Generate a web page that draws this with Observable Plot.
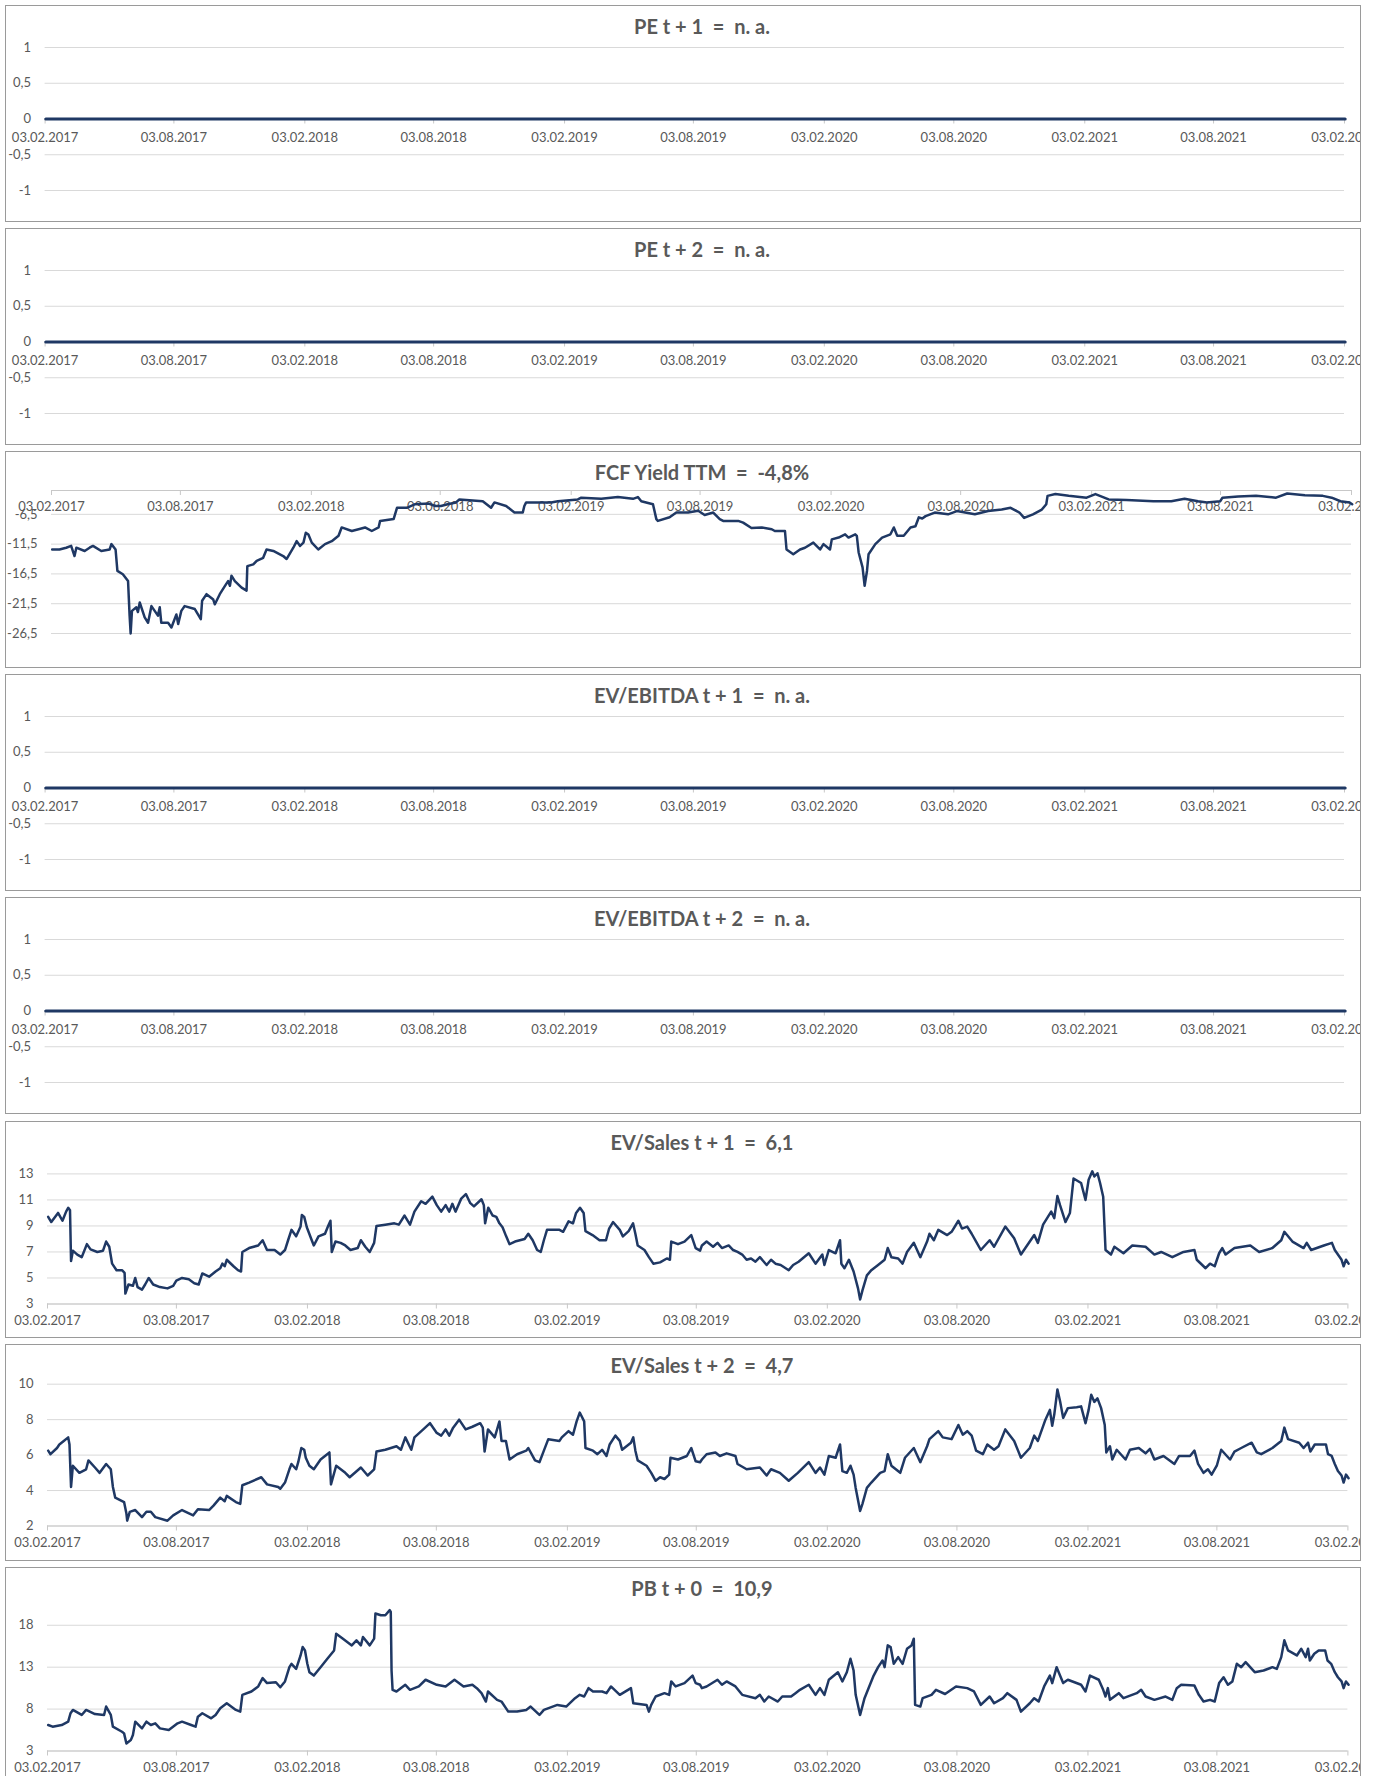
<!DOCTYPE html>
<html><head><meta charset="utf-8">
<script src="https://cdn.jsdelivr.net/npm/d3@7"></script>
<script src="https://cdn.jsdelivr.net/npm/@observablehq/plot@0.6"></script>
<style>
body{margin:0;background:#fff;}
#root{position:relative;width:1379px;height:1776px;overflow:hidden;background:#fff;}
.panel{position:absolute;left:5px;width:1354px;height:215px;border:1px solid #9a9a9a;overflow:hidden;background:#fff;}
.panel svg{position:absolute;left:0;top:0;}
.title{position:absolute;top:8px;left:696px;transform:translateX(-50%);font:bold 20px Lato,sans-serif;color:#595959;white-space:pre;line-height:24px;z-index:2;}
</style></head><body><div id="root"></div>
<script>
// ---------- titles & tick labels ----------
const titles = [
  "PE t + 1  =  n. a.",
  "PE t + 2  =  n. a.",
  "FCF Yield TTM  =  -4,8%",
  "EV/EBITDA t + 1  =  n. a.",
  "EV/EBITDA t + 2  =  n. a.",
  "EV/Sales t + 1  =  6,1",
  "EV/Sales t + 2  =  4,7",
  "PB t + 0  =  10,9"
];
const xTickLabels = ["03.02.2017","03.08.2017","03.02.2018","03.08.2018","03.02.2019","03.08.2019","03.02.2020","03.08.2020","03.02.2021","03.08.2021","03.02.2022"];
const yTicksNA = [-1, -0.5, 0, 0.5, 1];
const yTicksFCF = [-26.5, -21.5, -16.5, -11.5, -6.5];
const yTicksEV1 = [3, 5, 7, 9, 11, 13];
const yTicksEV2 = [2, 4, 6, 8, 10];
const yTicksPB = [3, 8, 13, 18];

// ---------- series: [decimal year, value] ----------
const naSeries = [[2017.093, 0], [2022.093, 0]]; // n. a. series shown as 0

const fcfYield = [[2017.093,-12.4],[2017.121,-12.4],[2017.147,-12.1],[2017.166,-11.8],[2017.179,-13.5],[2017.186,-12.1],[2017.218,-12.65],[2017.237,-12.1],[2017.250,-11.8],[2017.282,-12.65],[2017.314,-12.4],[2017.321,-11.5],[2017.337,-12.4],[2017.344,-16.0],[2017.365,-16.55],[2017.385,-17.7],[2017.391,-23.5],[2017.395,-26.5],[2017.400,-22.7],[2017.417,-22.1],[2017.423,-22.9],[2017.430,-21.3],[2017.449,-23.8],[2017.462,-24.7],[2017.475,-21.9],[2017.500,-23.5],[2017.507,-22.1],[2017.513,-24.7],[2017.539,-24.7],[2017.552,-25.5],[2017.571,-23.3],[2017.578,-24.9],[2017.590,-22.7],[2017.603,-21.9],[2017.642,-22.4],[2017.665,-24.1],[2017.670,-21.0],[2017.687,-19.9],[2017.713,-20.8],[2017.719,-21.6],[2017.738,-19.9],[2017.758,-18.5],[2017.770,-17.7],[2017.777,-18.5],[2017.783,-16.8],[2017.796,-17.7],[2017.822,-18.8],[2017.841,-19.3],[2017.844,-15.2],[2017.867,-14.9],[2017.880,-14.3],[2017.905,-13.8],[2017.918,-12.4],[2017.944,-12.65],[2017.982,-13.5],[2017.995,-14.0],[2018.021,-12.1],[2018.034,-11.0],[2018.047,-11.8],[2018.060,-11.25],[2018.069,-9.6],[2018.079,-9.9],[2018.092,-11.25],[2018.117,-12.4],[2018.143,-11.5],[2018.169,-11.0],[2018.195,-10.1],[2018.207,-8.7],[2018.246,-9.3],[2018.272,-9.0],[2018.297,-8.7],[2018.323,-9.3],[2018.349,-8.7],[2018.355,-7.6],[2018.407,-7.3],[2018.420,-5.4],[2018.458,-5.4],[2018.490,-4.8],[2018.542,-4.7],[2018.567,-5.1],
[2018.589,-5.1],[2018.615,-4.8],[2018.647,-4.5],[2018.660,-4.0],[2018.750,-4.3],[2018.782,-5.4],[2018.795,-4.5],[2018.840,-5.1],[2018.872,-6.2],[2018.904,-6.2],[2018.910,-5.1],[2018.917,-4.5],[2019.013,-4.5],[2019.039,-4.3],[2019.116,-4.0],[2019.129,-3.7],[2019.206,-3.9],[2019.270,-3.6],[2019.328,-3.9],[2019.347,-3.6],[2019.360,-4.3],[2019.405,-4.8],[2019.418,-7.3],[2019.424,-7.6],[2019.469,-7.0],[2019.495,-6.2],[2019.540,-6.2],[2019.579,-5.9],[2019.604,-6.6],[2019.637,-6.2],[2019.662,-7.3],[2019.675,-7.6],[2019.733,-7.6],[2019.752,-7.9],[2019.784,-8.8],[2019.823,-8.7],[2019.862,-9.0],[2019.874,-9.3],[2019.913,-9.3],[2019.919,-12.4],[2019.945,-13.2],[2019.971,-12.4],[2019.990,-12.1],[2020.022,-11.25],[2020.048,-12.4],[2020.061,-11.5],[2020.086,-12.4],[2020.093,-10.7],[2020.119,-10.4],[2020.144,-9.85],[2020.157,-10.4],[2020.183,-9.85],[2020.189,-10.1],[2020.196,-12.9],[2020.211,-15.4],[2020.219,-18.5],[2020.228,-16.0],[2020.234,-13.2],[2020.260,-11.5],[2020.286,-10.4],[2020.318,-9.85],[2020.331,-8.7],[2020.344,-10.1],[2020.369,-10.1],[2020.395,-8.7],[2020.414,-8.5],[2020.427,-7.0],[2020.440,-7.2],
[2020.453,-6.8],[2020.488,-6.2],[2020.539,-6.5],[2020.573,-5.95],[2020.642,-6.5],[2020.693,-5.95],[2020.745,-5.7],[2020.779,-5.4],[2020.813,-6.2],[2020.831,-7.1],[2020.865,-6.5],[2020.899,-5.7],[2020.916,-4.8],[2020.921,-3.4],[2020.951,-3.1],[2021.002,-3.4],[2021.071,-3.7],[2021.105,-3.1],[2021.156,-4.0],[2021.225,-4.1],[2021.328,-4.3],[2021.397,-4.3],[2021.448,-3.9],[2021.500,-4.3],[2021.534,-4.5],[2021.585,-4.3],[2021.594,-3.7],[2021.654,-3.5],[2021.723,-3.4],[2021.800,-3.7],[2021.843,-3.0],[2021.911,-3.3],[2021.980,-3.4],[2022.014,-3.7],[2022.048,-4.3],[2022.083,-4.5],[2022.093,-4.8]];

const evSales1 = [[2017.093,9.7],[2017.105,9.3],[2017.131,10.0],[2017.148,9.4],[2017.162,10.1],[2017.170,10.4],[2017.177,10.2],[2017.181,6.3],[2017.188,7.1],[2017.205,6.8],[2017.222,6.6],[2017.242,7.6],[2017.256,7.2],[2017.282,7.0],[2017.304,7.1],[2017.316,7.8],[2017.328,7.4],[2017.339,6.1],[2017.356,5.6],[2017.377,5.6],[2017.387,5.4],[2017.390,3.8],[2017.402,4.5],[2017.419,4.4],[2017.428,5.0],[2017.437,4.3],[2017.454,4.1],[2017.466,4.5],[2017.480,5.0],[2017.497,4.5],[2017.523,4.3],[2017.552,4.2],[2017.574,4.4],[2017.586,4.8],[2017.608,5.0],[2017.634,4.9],[2017.655,4.6],[2017.672,4.5],[2017.686,5.35],[2017.712,5.1],[2017.737,5.5],[2017.755,5.75],[2017.763,6.1],[2017.772,5.9],[2017.780,6.4],[2017.806,5.9],[2017.823,5.6],[2017.835,5.5],[2017.840,7.0],[2017.866,7.3],[2017.901,7.5],[2017.918,7.9],[2017.935,7.15],[2017.964,7.15],[2017.986,6.8],[2018.004,7.15],[2018.016,7.9],[2018.029,8.7],[2018.047,8.2],[2018.064,8.95],[2018.069,9.85],[2018.078,9.7],[2018.088,8.9],[2018.107,7.9],[2018.115,7.5],[2018.133,8.2],[2018.158,8.4],[2018.170,9.0],[2018.179,9.4],[2018.184,7.0],[2018.198,7.8],[2018.218,7.7],[2018.236,7.5],[2018.256,7.15],[2018.284,7.3],[2018.296,7.9],[2018.313,7.4],[2018.330,7.0],[2018.347,7.7],[2018.356,9.0],[2018.390,9.1],[2018.425,9.2],[2018.442,9.1],[2018.464,9.8],[2018.485,9.1],[2018.502,10.1],[2018.528,10.9],[2018.545,10.7],[2018.571,11.25],[2018.588,10.6],[2018.605,10.1],[2018.622,10.6],[2018.636,10.1],[2018.648,10.7],[2018.660,10.1],[2018.682,11.1],[2018.700,11.45],[2018.717,10.75],[2018.731,10.5],[2018.760,11.05],[2018.769,10.6],[2018.774,9.2],[2018.786,10.4],[2018.803,9.8],[2018.817,9.7],[2018.829,9.2],[2018.841,8.9],[2018.855,8.2],[2018.868,7.6],[2018.889,7.8],[2018.926,8.0],[2018.940,8.4],[2018.957,7.9],[2018.974,7.15],[2018.988,7.0],[2019.000,7.9],[2019.012,8.7],[2019.060,8.7],[2019.074,8.55],[2019.095,9.35],[2019.112,9.2],[2019.124,10.0],[2019.139,10.4],[2019.153,10.0],[2019.160,8.6],[2019.187,8.3],[2019.214,7.9],[2019.239,7.9],[2019.251,8.8],[2019.266,9.3],[2019.292,8.7],[2019.304,8.2],[2019.326,8.6],[2019.343,9.2],[2019.352,8.4],[2019.361,7.5],[2019.387,7.15],[2019.404,6.6],[2019.421,6.1],[2019.447,6.2],[2019.473,6.5],[2019.485,6.4],[2019.490,7.8],[2019.516,7.6],[2019.541,7.8],[2019.567,8.3],[2019.584,7.3],[2019.601,7.1],
[2019.608,7.5],[2019.626,7.8],[2019.651,7.4],[2019.668,7.7],[2019.685,7.3],[2019.711,7.5],[2019.728,7.15],[2019.745,7.0],[2019.763,6.8],[2019.780,6.4],[2019.797,6.5],[2019.814,6.25],[2019.831,6.6],[2019.857,6.0],[2019.874,6.4],[2019.891,6.1],[2019.911,6.0],[2019.942,5.6],[2019.959,6.0],[2019.980,6.25],[2020.019,6.9],[2020.045,6.1],[2020.071,6.8],[2020.079,6.0],[2020.096,7.15],[2020.122,6.9],[2020.139,7.9],[2020.144,6.1],[2020.156,5.75],[2020.173,6.4],[2020.191,5.5],[2020.208,4.2],[2020.216,3.35],[2020.225,4.05],[2020.242,5.2],[2020.259,5.6],[2020.285,6.0],[2020.310,6.4],[2020.322,7.3],[2020.336,6.6],[2020.362,6.5],[2020.379,6.1],[2020.396,7.0],[2020.422,7.7],[2020.447,6.6],[2020.473,7.8],[2020.482,8.4],[2020.499,7.9],[2020.516,8.7],[2020.550,8.3],[2020.567,8.55],[2020.593,9.4],[2020.607,8.8],[2020.627,8.95],[2020.644,8.4],[2020.661,7.8],[2020.679,7.15],[2020.713,7.9],[2020.730,7.4],[2020.773,8.95],[2020.807,8.05],[2020.833,6.8],[2020.850,7.3],[2020.884,8.3],[2020.898,7.7],[2020.918,9.1],[2020.949,10.1],[2020.961,9.6],[2020.973,11.3],[2020.983,10.6],[2021.004,9.3],[2021.021,10.0],[2021.035,12.65],[2021.064,12.3],[2021.081,11.0],[2021.093,12.55],[2021.107,13.2],[2021.115,12.8],[2021.127,13.05],[2021.137,12.3],[2021.149,11.25],[2021.158,7.15],[2021.179,6.8],[2021.192,7.4],[2021.227,6.9],[2021.261,7.5],[2021.312,7.4],[2021.346,6.8],[2021.372,7.0],[2021.415,6.6],[2021.458,7.0],[2021.500,7.15],[2021.509,6.4],[2021.543,5.75],[2021.560,6.1],[2021.578,5.9],[2021.595,6.9],[2021.607,7.3],[2021.620,6.8],[2021.654,7.3],[2021.715,7.5],[2021.749,7.0],[2021.800,7.3],[2021.834,7.9],[2021.846,8.55],[2021.877,7.8],[2021.920,7.3],[2021.932,7.7],[2021.949,7.15],[2021.998,7.5],[2022.029,7.7],[2022.040,7.15],[2022.066,6.4],[2022.074,5.9],[2022.083,6.4],[2022.093,6.1]];

const evSales2 = [[2017.093,6.25],[2017.102,6.05],[2017.127,6.4],[2017.136,6.6],[2017.153,6.8],[2017.170,7.0],[2017.175,6.6],[2017.181,4.2],[2017.188,5.4],[2017.213,5.0],[2017.239,5.2],[2017.248,5.7],[2017.273,5.3],[2017.291,5.0],[2017.316,5.5],[2017.334,5.2],[2017.342,4.2],[2017.351,3.6],[2017.385,3.35],[2017.394,2.7],[2017.397,2.3],[2017.407,2.8],[2017.428,2.9],[2017.454,2.5],[2017.471,2.8],[2017.488,2.8],[2017.505,2.5],[2017.552,2.3],[2017.574,2.6],[2017.608,2.9],[2017.651,2.6],[2017.669,2.95],[2017.712,2.9],[2017.729,3.15],[2017.755,3.6],[2017.772,3.4],[2017.780,3.7],[2017.815,3.35],[2017.832,3.25],[2017.840,4.3],[2017.866,4.45],[2017.913,4.75],[2017.935,4.35],[2017.978,4.2],[2017.986,4.1],[2018.004,4.45],[2018.021,5.2],[2018.029,5.5],[2018.047,5.2],[2018.055,5.6],[2018.067,6.4],[2018.078,6.3],[2018.084,5.85],[2018.098,5.4],[2018.115,5.2],[2018.141,5.75],[2018.175,6.15],[2018.181,4.35],[2018.201,5.4],[2018.236,5.0],[2018.253,4.75],[2018.296,5.3],[2018.322,4.85],[2018.347,5.2],[2018.356,6.2],[2018.390,6.3],[2018.433,6.5],[2018.450,6.3],[2018.467,7.0],[2018.490,6.3],[2018.502,7.0],[2018.536,7.45],[2018.562,7.8],[2018.588,7.25],[2018.605,7.1],[2018.622,7.45],[2018.636,7.1],[2018.651,7.55],[2018.674,8.0],[2018.699,7.45],[2018.725,7.6],[2018.755,7.8],[2018.765,7.55],[2018.772,6.2],[2018.785,7.45],[2018.811,7.0],[2018.829,7.9],[2018.837,6.8],[2018.854,6.8],[2018.868,5.75],[2018.897,6.05],[2018.932,6.25],[2018.940,6.4],[2018.966,5.7],[2018.983,5.6],[2019.000,6.25],[2019.017,6.9],[2019.060,6.8],[2019.069,7.0],[2019.095,7.35],[2019.112,7.15],[2019.126,7.9],[2019.138,8.4],[2019.155,7.9],[2019.160,6.4],[2019.189,6.25],[2019.206,6.05],[2019.224,6.3],[2019.241,5.95],[2019.253,6.6],[2019.275,7.1],[2019.292,6.8],[2019.301,6.3],[2019.335,6.7],[2019.344,7.0],[2019.352,6.25],[2019.361,5.7],[2019.395,5.4],[2019.413,5.0],[2019.430,4.55],[2019.447,4.75],[2019.464,4.65],[2019.482,4.9],[2019.487,5.85],[2019.516,5.75],[2019.550,5.95],[2019.567,6.4],[2019.584,5.65],[2019.601,5.6],
[2019.608,5.75],[2019.626,6.05],[2019.660,6.15],[2019.677,5.95],[2019.703,6.1],[2019.737,5.95],[2019.745,5.5],[2019.780,5.2],[2019.831,5.3],[2019.857,4.85],[2019.874,5.2],[2019.908,5.0],[2019.942,4.55],[2019.977,5.0],[2020.019,5.6],[2020.045,5.0],[2020.062,5.3],[2020.079,4.9],[2020.096,5.95],[2020.122,5.85],[2020.139,6.6],[2020.148,5.1],[2020.165,5.0],[2020.179,5.4],[2020.191,4.9],[2020.199,4.15],[2020.216,2.85],[2020.225,3.25],[2020.242,4.15],[2020.259,4.45],[2020.293,5.0],[2020.310,5.1],[2020.322,6.05],[2020.336,5.4],[2020.370,5.0],[2020.388,5.85],[2020.422,6.4],[2020.447,5.6],[2020.473,6.5],[2020.482,6.9],[2020.516,7.35],[2020.533,7.0],[2020.567,6.9],[2020.593,7.7],[2020.610,7.15],[2020.627,7.35],[2020.644,7.1],[2020.661,6.25],[2020.687,6.05],[2020.704,6.6],[2020.730,6.3],[2020.747,6.5],[2020.773,7.45],[2020.807,6.8],[2020.833,5.85],[2020.867,6.4],[2020.884,7.1],[2020.898,6.8],[2020.927,8.0],[2020.944,8.55],[2020.953,7.65],[2020.961,8.3],[2020.973,9.7],[2020.983,9.05],[2020.995,8.1],[2021.013,8.65],[2021.047,8.7],[2021.064,8.75],[2021.081,7.8],[2021.093,8.55],[2021.103,9.4],[2021.115,9.0],[2021.127,9.2],[2021.141,8.65],[2021.155,7.7],[2021.161,6.15],[2021.175,6.5],[2021.184,5.75],[2021.201,6.3],[2021.235,5.75],[2021.252,6.3],[2021.286,6.4],[2021.312,6.1],[2021.329,6.35],[2021.346,5.75],[2021.381,5.95],[2021.423,5.5],[2021.441,5.95],[2021.483,5.95],[2021.500,6.25],[2021.514,5.5],[2021.535,5.0],[2021.552,5.2],[2021.566,4.9],[2021.586,5.4],[2021.603,6.3],[2021.637,5.75],[2021.654,6.2],[2021.680,6.4],[2021.720,6.7],[2021.740,6.15],[2021.757,6.05],[2021.800,6.4],[2021.834,6.8],[2021.846,7.55],[2021.860,6.9],[2021.903,6.7],[2021.920,6.4],[2021.937,6.7],[2021.946,6.2],[2021.963,6.6],[2022.006,6.6],[2022.014,6.05],[2022.028,5.95],[2022.040,5.5],[2022.052,5.1],[2022.066,4.85],[2022.074,4.45],[2022.083,4.9],[2022.093,4.7]];

const pbT0 = [[2017.093,6.1],[2017.110,5.9],[2017.145,6.1],[2017.170,6.5],[2017.179,7.5],[2017.188,7.9],[2017.222,7.3],[2017.239,7.9],[2017.273,7.4],[2017.308,7.3],[2017.316,8.3],[2017.334,7.3],[2017.342,5.9],[2017.377,5.3],[2017.385,5.1],[2017.394,3.9],[2017.411,4.3],[2017.419,4.9],[2017.428,6.5],[2017.454,5.7],[2017.471,6.5],[2017.488,6.1],[2017.505,6.3],[2017.523,5.7],[2017.557,5.5],[2017.591,6.3],[2017.608,6.5],[2017.643,6.1],[2017.660,5.9],[2017.669,7.1],[2017.686,7.5],[2017.720,6.9],[2017.737,7.3],[2017.755,8.1],[2017.780,8.7],[2017.815,7.9],[2017.832,7.7],[2017.840,9.7],[2017.875,10.1],[2017.901,10.7],[2017.918,11.7],[2017.935,11.1],[2017.969,11.2],[2017.986,10.6],[2018.004,11.3],[2018.021,13.0],[2018.029,13.4],[2018.047,12.8],[2018.064,14.4],[2018.072,15.4],[2018.081,15.0],[2018.090,13.4],[2018.098,12.4],[2018.115,12.0],[2018.141,13.0],[2018.167,14.0],[2018.193,15.0],[2018.201,17.0],[2018.227,16.4],[2018.261,15.6],[2018.279,16.2],[2018.296,15.6],[2018.304,16.6],[2018.330,15.6],[2018.347,16.4],[2018.352,19.4],[2018.373,19.2],[2018.390,19.2],[2018.407,19.8],[2018.411,19.6],[2018.414,12.6],[2018.418,10.3],[2018.433,10.1],[2018.467,10.9],[2018.485,10.3],[2018.519,10.7],[2018.545,11.5],[2018.588,10.9],[2018.622,10.7],[2018.656,11.5],[2018.691,10.7],[2018.725,10.9],[2018.742,10.5],[2018.760,9.9],[2018.777,8.9],[2018.785,10.1],[2018.820,9.1],[2018.837,8.9],[2018.863,7.7],[2018.897,7.7],[2018.932,7.9],[2018.949,8.3],[2018.983,7.3],[2019.000,7.9],[2019.052,8.5],[2019.086,8.3],[2019.120,9.3],[2019.138,9.7],[2019.155,9.5],[2019.172,10.5],[2019.189,10.1],[2019.224,10.1],[2019.241,9.9],[2019.258,10.7],[2019.292,9.7],[2019.335,10.5],[2019.344,8.7],[2019.395,8.5],[2019.404,7.7],[2019.413,8.5],[2019.430,9.5],[2019.464,9.9],[2019.482,9.7],[2019.490,11.3],[2019.507,10.7],[2019.541,11.1],[2019.572,12.0],[2019.584,11.1],[2019.601,10.9],
[2019.608,10.5],[2019.626,10.7],[2019.668,11.5],[2019.685,10.9],[2019.703,11.3],[2019.737,10.7],[2019.763,9.7],[2019.814,9.3],[2019.831,9.7],[2019.848,8.9],[2019.865,9.5],[2019.900,8.9],[2019.917,9.5],[2019.951,9.5],[2019.968,9.9],[2019.985,10.3],[2020.019,10.9],[2020.045,9.7],[2020.062,10.5],[2020.079,9.7],[2020.096,11.5],[2020.131,12.4],[2020.148,11.3],[2020.165,12.4],[2020.179,14.0],[2020.191,12.6],[2020.199,9.7],[2020.216,7.3],[2020.233,9.3],[2020.251,10.7],[2020.268,12.0],[2020.285,13.0],[2020.302,13.8],[2020.310,13.0],[2020.322,15.6],[2020.333,15.4],[2020.345,13.4],[2020.362,14.2],[2020.379,13.4],[2020.396,15.2],[2020.413,15.6],[2020.422,16.4],[2020.427,8.5],[2020.447,8.3],[2020.456,9.3],[2020.490,9.7],[2020.507,10.3],[2020.542,9.8],[2020.584,10.7],[2020.627,10.5],[2020.653,10.1],[2020.679,8.5],[2020.713,9.5],[2020.730,8.7],[2020.764,9.3],[2020.781,9.9],[2020.816,9.1],[2020.833,7.7],[2020.867,8.7],[2020.884,9.3],[2020.901,8.9],[2020.922,10.7],[2020.944,12.0],[2020.953,11.1],[2020.970,13.0],[2020.983,12.0],[2020.995,11.1],[2021.013,11.5],[2021.064,10.9],[2021.081,10.1],[2021.098,12.0],[2021.132,11.5],[2021.149,10.3],[2021.158,9.5],[2021.167,10.5],[2021.175,9.1],[2021.209,9.9],[2021.227,9.3],[2021.278,9.9],[2021.295,10.3],[2021.312,9.5],[2021.346,9.1],[2021.389,9.5],[2021.415,9.1],[2021.432,10.5],[2021.449,10.9],[2021.500,10.8],[2021.517,9.7],[2021.535,8.9],[2021.560,9.1],[2021.578,8.9],[2021.595,11.1],[2021.612,11.8],[2021.629,10.9],[2021.646,11.3],[2021.663,13.4],[2021.680,13.0],[2021.697,13.6],[2021.732,12.4],[2021.766,12.6],[2021.800,13.0],[2021.817,12.8],[2021.834,14.2],[2021.846,16.2],[2021.860,15.0],[2021.894,14.4],[2021.911,15.2],[2021.928,14.2],[2021.937,15.2],[2021.944,13.8],[2021.961,14.6],[2021.978,15.0],[2022.003,15.0],[2022.012,13.8],[2022.026,13.4],[2022.040,12.4],[2022.052,11.8],[2022.066,11.3],[2022.074,10.5],[2022.083,11.3],[2022.093,10.9]];

// ---------- helpers ----------
function yearToDate(t) {
  const y = Math.floor(t);
  const s = Date.UTC(y, 0, 1), e = Date.UTC(y + 1, 0, 1);
  return new Date(s + (t - y) * (e - s));
}
function parseLabel(s) {
  const [d, m, y] = s.split(".").map(Number);
  return new Date(Date.UTC(y, m - 1, d));
}
const xTickDates = xTickLabels.map(parseLabel);
const xDomain = [xTickDates[0], xTickDates[xTickDates.length - 1]];
const commaFmt = d => String(d).replace(".", ",");
const toRows = arr => arr.map(([t, v]) => ({date: yearToDate(t), v}));

const LINE = "#1f3864", TEXT = "#595959", GRID = "#d9d9d9", AXIS = "#c8c8c8";
const W = 1354, H = 215;

const panelDefs = [
  {series: naSeries, ticks: yTicksNA, domain: [-1, 1], axisAt: 0, labelDy: 18.5, mt: 41, mb: 31, ml: 38.6, mr: 16, lw: 3},
  {series: naSeries, ticks: yTicksNA, domain: [-1, 1], axisAt: 0, labelDy: 18.5, mt: 41, mb: 31, ml: 38.6, mr: 16, lw: 3},
  {series: fcfYield, ticks: yTicksFCF, domain: [-26.5, -2.5], axisAt: -2.5, labelDy: 16, mt: 38, mb: 34, ml: 45, mr: 9, lw: 2.5},
  {series: naSeries, ticks: yTicksNA, domain: [-1, 1], axisAt: 0, labelDy: 18.5, mt: 41, mb: 31, ml: 38.6, mr: 16, lw: 3},
  {series: naSeries, ticks: yTicksNA, domain: [-1, 1], axisAt: 0, labelDy: 18.5, mt: 41, mb: 31, ml: 38.6, mr: 16, lw: 3},
  {series: evSales1, ticks: yTicksEV1, domain: [3, 13.8], axisAt: 3, labelDy: 17, mt: 41, mb: 33.5, ml: 41, mr: 12.6, lw: 2.5},
  {series: evSales2, ticks: yTicksEV2, domain: [2, 10], axisAt: 2, labelDy: 17, mt: 38.7, mb: 34.5, ml: 41, mr: 12.6, lw: 2.5},
  {series: pbT0, ticks: yTicksPB, domain: [3, 20], axisAt: 3, labelDy: 17, mt: 40, mb: 32.5, ml: 41, mr: 12.6, lw: 2.5}
];

const root = document.getElementById("root");
panelDefs.forEach((p, i) => {
  const box = document.createElement("div");
  box.className = "panel";
  box.style.top = Math.round(4.5 + i * 223.2) + "px";
  const t = document.createElement("div");
  t.className = "title";
  t.textContent = titles[i];
  box.appendChild(t);

  const rows = toRows(p.series);
  const chart = Plot.plot({
    width: W, height: H,
    marginTop: p.mt, marginBottom: p.mb, marginLeft: p.ml, marginRight: p.mr,
    x: {type: "utc", domain: xDomain, axis: null},
    y: {domain: p.domain},
    style: {fontFamily: "Lato, sans-serif", fontSize: "13px", color: TEXT, background: "transparent"},
    marks: [
      Plot.ruleY(p.ticks, {stroke: GRID, strokeWidth: 1}),
      Plot.axisY(p.ticks, {tickSize: 0, tickPadding: 14, tickFormat: commaFmt, label: null, fontSize: 13, fill: TEXT}),
      Plot.ruleY([p.axisAt], {stroke: AXIS, strokeWidth: 1}),
      Plot.ruleX(xTickDates, {x: d => d, y1: p.axisAt, y2: p.axisAt, insetBottom: -5, stroke: AXIS}),
      Plot.text(xTickDates, {x: d => d, y: p.axisAt, dy: p.labelDy, text: (d, j) => xTickLabels[j], fontSize: 13, fill: TEXT}),
      Plot.line(rows, {x: "date", y: "v", stroke: LINE, strokeWidth: p.lw, strokeLinejoin: "round"})
    ]
  });
  box.appendChild(chart);
  root.appendChild(box);
});
</script></body></html>
